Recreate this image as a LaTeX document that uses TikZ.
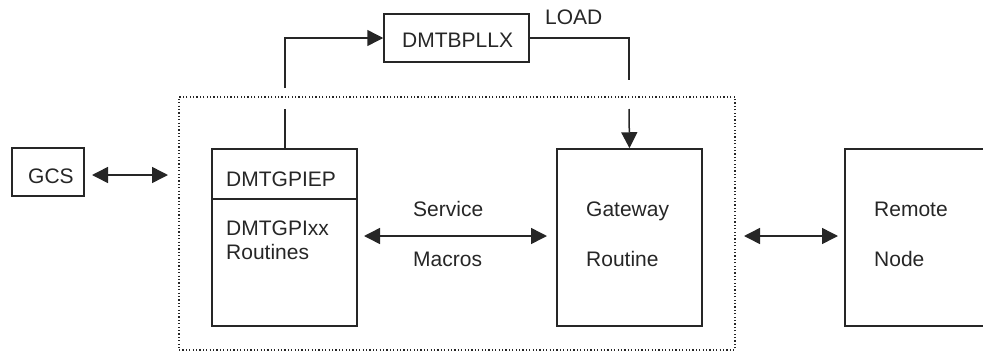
\documentclass[tikz,border=0pt]{standalone}
\usepackage{fontspec}
\setmainfont{Liberation Sans}
\usetikzlibrary{arrows.meta}
\begin{document}
\begin{tikzpicture}[x=1pt,y=-1pt,
  every node/.style={font=\fontsize{21}{25}\selectfont, inner sep=0pt, text=black!85},
  box/.style={draw=black!85, line width=1.5pt, rectangle},
  conn/.style={draw=black!85, line width=1.5pt},
  tip/.style={-{Triangle[length=16pt,width=16pt]}},
  bitip/.style={{Triangle[length=16pt,width=16pt]}-{Triangle[length=16pt,width=16pt]}},
  lbl/.style={anchor=base west}]
\useasboundingbox (0,0) rectangle (983,354);
% dotted enclosure
\node[draw=black!85, line width=1.3pt, dash pattern=on 1.2pt off 2.2pt, minimum width=556pt, minimum height=253pt] (encl) at (457,223.5) {};
% boxes
\node[box, minimum width=72pt, minimum height=48pt] (gcs) at (48,172) {};
\node[lbl] (gcst) at (28,183) {GCS};
\node[box, minimum width=145pt, minimum height=48pt] (bpllx) at (456.5,38) {};
\node[lbl] (bpllxt) at (402,47) {DMTBPLLX};
\node[lbl] (load) at (545,24) {LOAD};
\node[box, minimum width=145pt, minimum height=177pt] (piep) at (284.5,237.5) {};
\coordinate (divl) at (212,199);
\coordinate (divr) at (357,199);
\draw[conn] (divl) -- (divr);
\node[lbl] (piept) at (226,186) {DMTGPIEP};
\node[lbl] (xxt) at (226,235) {DMTGPIxx};
\node[lbl] (rout) at (226,259) {Routines};
\node[box, minimum width=145pt, minimum height=177pt] (gw) at (629.5,237.5) {};
\node[lbl] (gwt1) at (586,216) {Gateway};
\node[lbl] (gwt2) at (586,266) {Routine};
\node[lbl] (svc1) at (413,216) {Service};
\node[lbl] (svc2) at (413,266) {Macros};
% remote node (open at right edge)
\node[minimum width=140pt, minimum height=177pt] (rem) at (915,237.5) {};
\draw[conn] (rem.north east) -- (rem.north west) -- (rem.south west) -- (rem.south east);
\node[lbl] (remt1) at (874,216) {Remote};
\node[lbl] (remt2) at (874,266) {Node};
% connectors
\coordinate (ga) at (92,175);
\coordinate (gb) at (168,175);
\draw[conn, bitip] (ga) -- (gb);
\coordinate (sa) at (364,236);
\coordinate (sb) at (547,236);
\draw[conn, bitip] (sa) -- (sb);
\coordinate (ra) at (744,236);
\coordinate (rb) at (838,236);
\draw[conn, bitip] (ra) -- (rb);
% piep -> bpllx (broken at enclosure)
\coordinate (l1) at (285,109);
\coordinate (l2) at (285,88);
\draw[conn] (piep.north -| l1) -- (l1);
\draw[conn, tip] (l2) |- (bpllx.west);
% bpllx -> gateway (LOAD)
\coordinate (r1) at (629,80);
\coordinate (r2) at (629,109);
\draw[conn] (bpllx.east) -| (r1);
\draw[conn, tip] (r2) -- (gw.north);
\end{tikzpicture}
\end{document}
